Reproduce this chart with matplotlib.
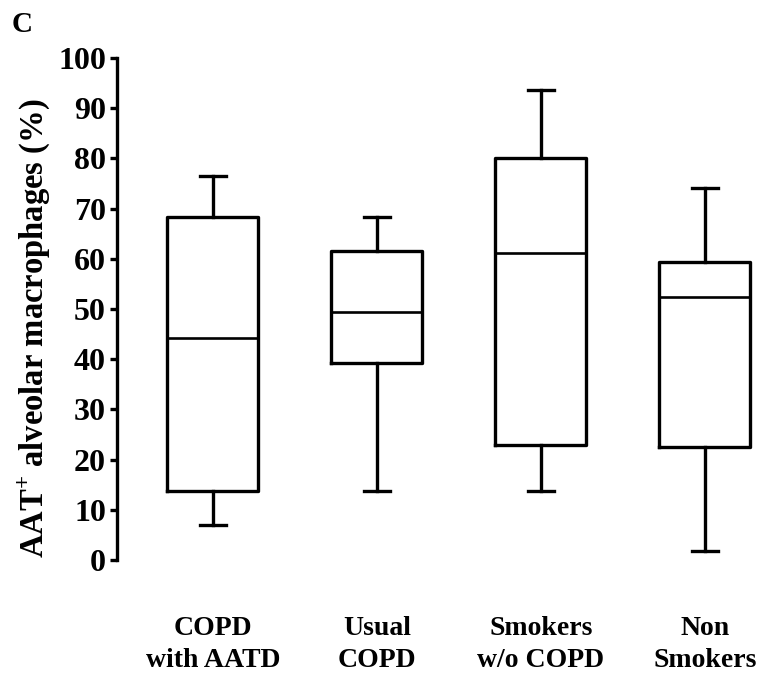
import matplotlib
matplotlib.use("Agg")
import matplotlib.pyplot as plt

groups = ["COPD\nwith AATD", "Usual\nCOPD", "Smokers\nw/o COPD", "Non\nSmokers"]
whisk_low = [7.0, 13.7, 13.7, 1.8]
q1 = [13.8, 39.3, 22.9, 22.6]
median = [44.3, 49.5, 61.1, 52.3]
q3 = [68.4, 61.6, 80.0, 59.3]
whisk_high = [76.5, 68.4, 93.6, 74.2]
y_ticks = [0, 10, 20, 30, 40, 50, 60, 70, 80, 90, 100]

plt.rcParams["font.family"] = "Liberation Serif"
plt.rcParams["font.weight"] = "bold"
plt.rcParams["mathtext.fontset"] = "custom"
plt.rcParams["mathtext.rm"] = "Liberation Serif:bold"
plt.rcParams["mathtext.bf"] = "Liberation Serif:bold"

fig = plt.figure(figsize=(7.69, 6.78), dpi=100)
ax = fig.add_axes([117 / 769, 118 / 678, 1 - 117 / 769, 502 / 678])

stats = []
for i in range(len(groups)):
    stats.append({"whislo": whisk_low[i], "q1": q1[i], "med": median[i],
                  "q3": q3[i], "whishi": whisk_high[i], "fliers": []})

lw = 2.4
ax.bxp(stats, positions=range(1, len(groups) + 1), widths=0.555,
       showfliers=False,
       boxprops=dict(color="black", linewidth=lw),
       whiskerprops=dict(color="black", linewidth=lw),
       capprops=dict(color="black", linewidth=lw),
       medianprops=dict(color="black", linewidth=1.9),
       capwidths=0.16)

ax.set_ylim(0, 100)
ax.set_xlim(0.415, 0.415 + (769 - 117) / 164)
ax.set_yticks(y_ticks)
ax.set_yticklabels([str(t) for t in y_ticks], fontsize=23, fontweight="bold")
ax.set_xticks(range(1, len(groups) + 1))
ax.set_xticklabels(groups, fontsize=20, fontweight="bold", linespacing=1.4)

for s in ["top", "right", "bottom"]:
    ax.spines[s].set_visible(False)
ax.spines["left"].set_linewidth(2.4)
ax.tick_params(axis="y", length=5, width=2.4, pad=3)
ax.tick_params(axis="x", length=0, pad=40)

fig.text(34 / 769, 1 - 328 / 678, r"AAT$^{\mathrm{+}}$ alveolar macrophages (%)",
         rotation=90, ha="center", va="center", fontsize=23.5, fontweight="bold")
fig.text(12 / 769, 1 - 25 / 678, "C", ha="left", va="center",
         fontsize=21, fontweight="bold")

fig.savefig("out.png", dpi=100)
